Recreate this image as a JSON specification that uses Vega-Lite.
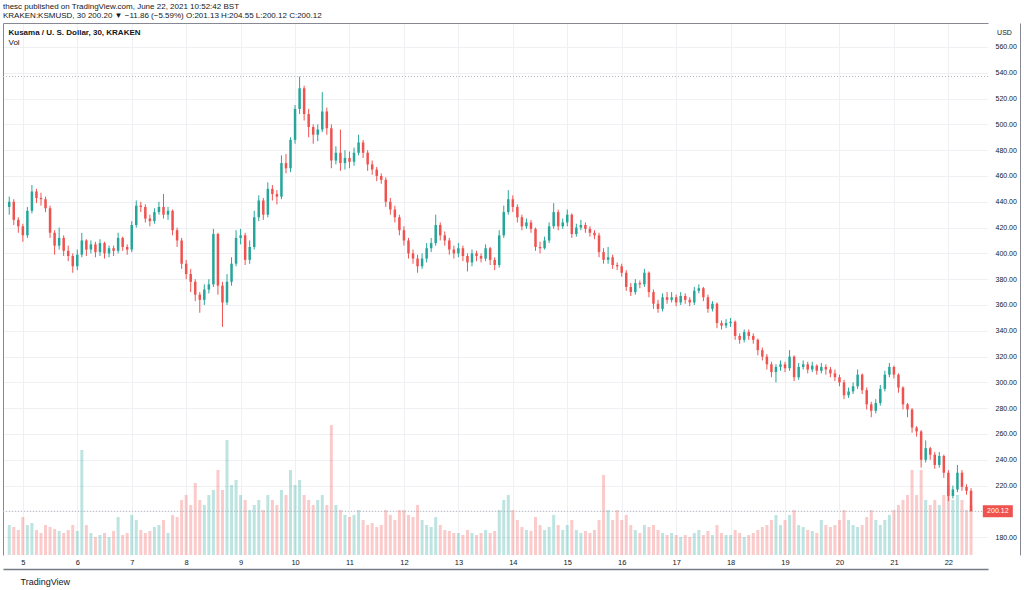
{
"$schema":"https://vega.github.io/schema/vega-lite/v6.json",
"width":985,"height":532,
"autosize":{"type":"none"},
"padding":{"left":3,"top":23,"right":36,"bottom":35},
"background":"#ffffff",
"config":{"view":{"stroke":null},"font":"Liberation Sans","axis":{"labelFont":"Liberation Sans","titleFont":"Liberation Sans"}},
"title":{"text":"thesc published on TradingView.com, June 22, 2021 10:52:42 BST","subtitle":"KRAKEN:KSMUSD, 30  200.20 ▼ −11.86 (−5.59%)  O:201.13  H:204.55  L:200.12  C:200.12","anchor":"start","frame":"group","fontSize":8,"fontWeight":"normal","color":"#131722","subtitleFontSize":8,"subtitleColor":"#131722","subtitlePadding":1,"offset":3},
"datasets":{"k":[
{"h":-6,"o":436,"hi":444,"l":430,"c":440,"v":30},
{"h":-4,"o":440,"hi":442,"l":422,"c":426,"v":28},
{"h":-2,"o":426,"hi":428,"l":416,"c":421,"v":25},
{"h":0,"o":421,"hi":423,"l":409,"c":414,"v":38},
{"h":2,"o":414,"hi":436,"l":412,"c":433,"v":30},
{"h":4,"o":433,"hi":453,"l":431,"c":448,"v":32},
{"h":6,"o":448,"hi":450,"l":439,"c":443,"v":25},
{"h":8,"o":443,"hi":447,"l":437,"c":442,"v":22},
{"h":10,"o":442,"hi":444,"l":432,"c":435,"v":30},
{"h":12,"o":435,"hi":437,"l":412,"c":416,"v":28},
{"h":14,"o":416,"hi":418,"l":399,"c":406,"v":26},
{"h":16,"o":406,"hi":420,"l":403,"c":412,"v":24},
{"h":18,"o":412,"hi":414,"l":398,"c":402,"v":22},
{"h":20,"o":402,"hi":406,"l":394,"c":398,"v":25},
{"h":22,"o":398,"hi":400,"l":385,"c":390,"v":30},
{"h":24,"o":390,"hi":403,"l":387,"c":399,"v":24},
{"h":26,"o":399,"hi":416,"l":397,"c":410,"v":105},
{"h":28,"o":410,"hi":411,"l":398,"c":403,"v":30},
{"h":30,"o":403,"hi":410,"l":400,"c":407,"v":22},
{"h":32,"o":407,"hi":409,"l":397,"c":401,"v":18},
{"h":34,"o":401,"hi":411,"l":398,"c":408,"v":20},
{"h":36,"o":408,"hi":409,"l":396,"c":400,"v":22},
{"h":38,"o":400,"hi":406,"l":397,"c":404,"v":18},
{"h":40,"o":404,"hi":406,"l":398,"c":402,"v":24},
{"h":42,"o":402,"hi":416,"l":400,"c":412,"v":38},
{"h":44,"o":412,"hi":413,"l":402,"c":405,"v":20},
{"h":46,"o":405,"hi":407,"l":399,"c":403,"v":22},
{"h":48,"o":403,"hi":425,"l":401,"c":422,"v":40},
{"h":50,"o":422,"hi":441,"l":420,"c":437,"v":35},
{"h":52,"o":437,"hi":440,"l":432,"c":436,"v":25},
{"h":54,"o":436,"hi":438,"l":424,"c":427,"v":22},
{"h":56,"o":427,"hi":430,"l":421,"c":425,"v":24},
{"h":58,"o":425,"hi":435,"l":423,"c":432,"v":28},
{"h":60,"o":432,"hi":440,"l":430,"c":436,"v":30},
{"h":62,"o":436,"hi":446,"l":427,"c":430,"v":35},
{"h":64,"o":430,"hi":436,"l":426,"c":433,"v":22},
{"h":66,"o":433,"hi":434,"l":414,"c":418,"v":40},
{"h":68,"o":418,"hi":420,"l":405,"c":410,"v":38},
{"h":70,"o":410,"hi":412,"l":388,"c":392,"v":55},
{"h":72,"o":392,"hi":395,"l":380,"c":384,"v":60},
{"h":74,"o":384,"hi":388,"l":370,"c":378,"v":50},
{"h":76,"o":378,"hi":380,"l":363,"c":368,"v":72},
{"h":78,"o":368,"hi":370,"l":354,"c":364,"v":55},
{"h":80,"o":364,"hi":376,"l":360,"c":372,"v":50},
{"h":82,"o":372,"hi":380,"l":369,"c":376,"v":60},
{"h":84,"o":376,"hi":419,"l":374,"c":415,"v":65},
{"h":86,"o":415,"hi":416,"l":368,"c":375,"v":85},
{"h":88,"o":375,"hi":378,"l":343,"c":362,"v":65},
{"h":90,"o":362,"hi":384,"l":360,"c":378,"v":115},
{"h":92,"o":378,"hi":397,"l":375,"c":392,"v":70},
{"h":94,"o":392,"hi":418,"l":390,"c":412,"v":75},
{"h":96,"o":412,"hi":419,"l":407,"c":414,"v":60},
{"h":98,"o":414,"hi":416,"l":391,"c":395,"v":55},
{"h":100,"o":395,"hi":410,"l":392,"c":405,"v":45},
{"h":102,"o":405,"hi":433,"l":403,"c":428,"v":50},
{"h":104,"o":428,"hi":445,"l":425,"c":441,"v":55},
{"h":106,"o":441,"hi":443,"l":426,"c":430,"v":45},
{"h":108,"o":430,"hi":455,"l":428,"c":450,"v":60},
{"h":110,"o":450,"hi":453,"l":441,"c":446,"v":55},
{"h":112,"o":446,"hi":449,"l":438,"c":444,"v":50},
{"h":114,"o":444,"hi":476,"l":442,"c":470,"v":65},
{"h":116,"o":470,"hi":477,"l":462,"c":466,"v":60},
{"h":118,"o":466,"hi":490,"l":463,"c":488,"v":85},
{"h":120,"o":488,"hi":515,"l":485,"c":512,"v":70},
{"h":122,"o":512,"hi":537,"l":508,"c":528,"v":75},
{"h":124,"o":528,"hi":530,"l":503,"c":508,"v":60},
{"h":126,"o":508,"hi":512,"l":490,"c":498,"v":55},
{"h":128,"o":498,"hi":500,"l":485,"c":492,"v":50},
{"h":130,"o":492,"hi":500,"l":487,"c":496,"v":55},
{"h":132,"o":496,"hi":525,"l":494,"c":510,"v":60},
{"h":134,"o":510,"hi":513,"l":492,"c":497,"v":50},
{"h":136,"o":497,"hi":500,"l":466,"c":472,"v":130},
{"h":138,"o":472,"hi":483,"l":469,"c":478,"v":50},
{"h":140,"o":478,"hi":496,"l":464,"c":470,"v":45},
{"h":142,"o":470,"hi":480,"l":465,"c":474,"v":40},
{"h":144,"o":474,"hi":479,"l":466,"c":471,"v":38},
{"h":146,"o":471,"hi":482,"l":468,"c":478,"v":40},
{"h":148,"o":478,"hi":492,"l":476,"c":486,"v":45},
{"h":150,"o":486,"hi":488,"l":474,"c":478,"v":35},
{"h":152,"o":478,"hi":480,"l":464,"c":469,"v":30},
{"h":154,"o":469,"hi":472,"l":461,"c":465,"v":32},
{"h":156,"o":465,"hi":467,"l":456,"c":460,"v":28},
{"h":158,"o":460,"hi":462,"l":454,"c":457,"v":30},
{"h":160,"o":457,"hi":459,"l":436,"c":440,"v":45},
{"h":162,"o":440,"hi":443,"l":430,"c":434,"v":40},
{"h":164,"o":434,"hi":437,"l":424,"c":428,"v":35},
{"h":166,"o":428,"hi":430,"l":414,"c":418,"v":45},
{"h":168,"o":418,"hi":421,"l":406,"c":410,"v":45},
{"h":170,"o":410,"hi":412,"l":396,"c":400,"v":40},
{"h":172,"o":400,"hi":403,"l":392,"c":396,"v":38},
{"h":174,"o":396,"hi":399,"l":385,"c":390,"v":50},
{"h":176,"o":390,"hi":400,"l":388,"c":396,"v":35},
{"h":178,"o":396,"hi":408,"l":393,"c":404,"v":30},
{"h":180,"o":404,"hi":412,"l":401,"c":408,"v":28},
{"h":182,"o":408,"hi":430,"l":406,"c":422,"v":38},
{"h":184,"o":422,"hi":424,"l":410,"c":414,"v":30},
{"h":186,"o":414,"hi":417,"l":406,"c":410,"v":25},
{"h":188,"o":410,"hi":412,"l":399,"c":403,"v":24},
{"h":190,"o":403,"hi":406,"l":396,"c":400,"v":22},
{"h":192,"o":400,"hi":408,"l":397,"c":404,"v":22},
{"h":194,"o":404,"hi":406,"l":394,"c":398,"v":20},
{"h":196,"o":398,"hi":400,"l":386,"c":393,"v":25},
{"h":198,"o":393,"hi":403,"l":390,"c":400,"v":22},
{"h":200,"o":400,"hi":402,"l":394,"c":398,"v":20},
{"h":202,"o":398,"hi":400,"l":393,"c":396,"v":22},
{"h":204,"o":396,"hi":407,"l":394,"c":404,"v":25},
{"h":206,"o":404,"hi":405,"l":391,"c":395,"v":22},
{"h":208,"o":395,"hi":397,"l":387,"c":391,"v":24},
{"h":210,"o":391,"hi":418,"l":389,"c":414,"v":45},
{"h":212,"o":414,"hi":437,"l":412,"c":432,"v":55},
{"h":214,"o":432,"hi":449,"l":430,"c":442,"v":60},
{"h":216,"o":442,"hi":445,"l":432,"c":436,"v":45},
{"h":218,"o":436,"hi":438,"l":424,"c":428,"v":35},
{"h":220,"o":428,"hi":430,"l":418,"c":421,"v":28},
{"h":222,"o":421,"hi":427,"l":419,"c":424,"v":25},
{"h":224,"o":424,"hi":426,"l":416,"c":419,"v":24},
{"h":226,"o":419,"hi":420,"l":402,"c":405,"v":38},
{"h":228,"o":405,"hi":409,"l":400,"c":404,"v":30},
{"h":230,"o":404,"hi":413,"l":403,"c":410,"v":25},
{"h":232,"o":410,"hi":424,"l":408,"c":421,"v":28},
{"h":234,"o":421,"hi":439,"l":419,"c":432,"v":40},
{"h":236,"o":432,"hi":434,"l":418,"c":421,"v":30},
{"h":238,"o":421,"hi":427,"l":419,"c":424,"v":25},
{"h":240,"o":424,"hi":434,"l":421,"c":430,"v":30},
{"h":242,"o":430,"hi":431,"l":412,"c":415,"v":35},
{"h":244,"o":415,"hi":423,"l":413,"c":420,"v":25},
{"h":246,"o":420,"hi":426,"l":418,"c":422,"v":22},
{"h":248,"o":422,"hi":424,"l":416,"c":419,"v":24},
{"h":250,"o":419,"hi":421,"l":413,"c":416,"v":22},
{"h":252,"o":416,"hi":418,"l":411,"c":414,"v":25},
{"h":254,"o":414,"hi":416,"l":397,"c":401,"v":35},
{"h":256,"o":401,"hi":404,"l":392,"c":395,"v":80},
{"h":258,"o":395,"hi":405,"l":392,"c":397,"v":45},
{"h":260,"o":397,"hi":399,"l":388,"c":391,"v":35},
{"h":262,"o":391,"hi":393,"l":387,"c":390,"v":45},
{"h":264,"o":390,"hi":392,"l":382,"c":385,"v":35},
{"h":266,"o":385,"hi":387,"l":371,"c":374,"v":40},
{"h":268,"o":374,"hi":377,"l":367,"c":370,"v":30},
{"h":270,"o":370,"hi":380,"l":368,"c":377,"v":25},
{"h":272,"o":377,"hi":379,"l":373,"c":376,"v":22},
{"h":274,"o":376,"hi":388,"l":374,"c":385,"v":30},
{"h":276,"o":385,"hi":386,"l":366,"c":370,"v":28},
{"h":278,"o":370,"hi":372,"l":357,"c":361,"v":30},
{"h":280,"o":361,"hi":364,"l":354,"c":357,"v":25},
{"h":282,"o":357,"hi":369,"l":355,"c":366,"v":22},
{"h":284,"o":366,"hi":370,"l":361,"c":364,"v":20},
{"h":286,"o":364,"hi":370,"l":362,"c":366,"v":22},
{"h":288,"o":366,"hi":368,"l":359,"c":362,"v":20},
{"h":290,"o":362,"hi":370,"l":360,"c":367,"v":18},
{"h":292,"o":367,"hi":369,"l":361,"c":364,"v":20},
{"h":294,"o":364,"hi":366,"l":359,"c":362,"v":18},
{"h":296,"o":362,"hi":374,"l":360,"c":371,"v":22},
{"h":298,"o":371,"hi":376,"l":369,"c":373,"v":25},
{"h":300,"o":373,"hi":374,"l":363,"c":366,"v":20},
{"h":302,"o":366,"hi":368,"l":354,"c":357,"v":24},
{"h":304,"o":357,"hi":363,"l":355,"c":361,"v":20},
{"h":306,"o":361,"hi":362,"l":342,"c":346,"v":30},
{"h":308,"o":346,"hi":348,"l":341,"c":344,"v":22},
{"h":310,"o":344,"hi":349,"l":342,"c":346,"v":20},
{"h":312,"o":346,"hi":350,"l":343,"c":347,"v":20},
{"h":314,"o":347,"hi":348,"l":333,"c":336,"v":25},
{"h":316,"o":336,"hi":338,"l":330,"c":333,"v":22},
{"h":318,"o":333,"hi":341,"l":331,"c":339,"v":18},
{"h":320,"o":339,"hi":341,"l":333,"c":336,"v":20},
{"h":322,"o":336,"hi":338,"l":330,"c":333,"v":22},
{"h":324,"o":333,"hi":334,"l":321,"c":325,"v":25},
{"h":326,"o":325,"hi":327,"l":317,"c":320,"v":28},
{"h":328,"o":320,"hi":322,"l":310,"c":314,"v":30},
{"h":330,"o":314,"hi":316,"l":304,"c":308,"v":35},
{"h":332,"o":308,"hi":314,"l":300,"c":312,"v":40},
{"h":334,"o":312,"hi":317,"l":309,"c":314,"v":30},
{"h":336,"o":314,"hi":316,"l":308,"c":311,"v":35},
{"h":338,"o":311,"hi":325,"l":309,"c":320,"v":40},
{"h":340,"o":320,"hi":321,"l":301,"c":304,"v":45},
{"h":342,"o":304,"hi":315,"l":302,"c":312,"v":30},
{"h":344,"o":312,"hi":317,"l":310,"c":314,"v":28},
{"h":346,"o":314,"hi":316,"l":307,"c":310,"v":25},
{"h":348,"o":310,"hi":316,"l":308,"c":313,"v":24},
{"h":350,"o":313,"hi":314,"l":306,"c":309,"v":22},
{"h":352,"o":309,"hi":315,"l":307,"c":312,"v":35},
{"h":354,"o":312,"hi":314,"l":306,"c":310,"v":30},
{"h":356,"o":310,"hi":312,"l":304,"c":307,"v":28},
{"h":358,"o":307,"hi":310,"l":301,"c":304,"v":30},
{"h":360,"o":304,"hi":306,"l":297,"c":300,"v":35},
{"h":362,"o":300,"hi":302,"l":287,"c":290,"v":45},
{"h":364,"o":290,"hi":296,"l":288,"c":293,"v":35},
{"h":366,"o":293,"hi":300,"l":291,"c":297,"v":30},
{"h":368,"o":297,"hi":310,"l":295,"c":306,"v":28},
{"h":370,"o":306,"hi":307,"l":291,"c":294,"v":30},
{"h":372,"o":294,"hi":296,"l":279,"c":283,"v":38},
{"h":374,"o":283,"hi":285,"l":273,"c":278,"v":45},
{"h":376,"o":278,"hi":287,"l":276,"c":284,"v":35},
{"h":378,"o":284,"hi":298,"l":282,"c":295,"v":30},
{"h":380,"o":295,"hi":309,"l":293,"c":306,"v":35},
{"h":382,"o":306,"hi":315,"l":304,"c":312,"v":40},
{"h":384,"o":312,"hi":313,"l":303,"c":306,"v":45},
{"h":386,"o":306,"hi":307,"l":292,"c":296,"v":50},
{"h":388,"o":296,"hi":297,"l":279,"c":283,"v":55},
{"h":390,"o":283,"hi":284,"l":273,"c":279,"v":60},
{"h":392,"o":279,"hi":280,"l":261,"c":265,"v":85},
{"h":394,"o":265,"hi":266,"l":258,"c":262,"v":60},
{"h":396,"o":262,"hi":263,"l":234,"c":240,"v":85},
{"h":398,"o":240,"hi":255,"l":238,"c":249,"v":55},
{"h":400,"o":249,"hi":250,"l":240,"c":244,"v":50},
{"h":402,"o":244,"hi":246,"l":233,"c":236,"v":55},
{"h":404,"o":236,"hi":246,"l":234,"c":243,"v":50},
{"h":406,"o":243,"hi":244,"l":226,"c":230,"v":60},
{"h":408,"o":230,"hi":232,"l":208,"c":212,"v":70},
{"h":410,"o":212,"hi":220,"l":210,"c":217,"v":55},
{"h":412,"o":217,"hi":236,"l":215,"c":230,"v":60},
{"h":414,"o":230,"hi":232,"l":216,"c":219,"v":55},
{"h":416,"o":219,"hi":221,"l":213,"c":216,"v":45},
{"h":418,"o":216,"hi":218,"l":200,"c":200.12,"v":50}
]},
"layer":[
{"data":{"name":"k"},"mark":{"type":"bar","size":3,"opacity":0.3},
 "encoding":{
  "x":{"field":"h","type":"quantitative","scale":{"domain":[-6.545,423.27],"nice":false,"zero":false},"axis":null},
  "y":{"field":"v","type":"quantitative","scale":{"domain":[0,532],"nice":false},"axis":null},
  "color":{"condition":{"test":"datum.c >= datum.o","value":"#26a69a"},"value":"#ef5350"}}},
{"data":{"name":"k"},"mark":{"type":"rule","strokeWidth":1},
 "encoding":{
  "x":{"field":"h","type":"quantitative","scale":{"domain":[-6.545,423.27],"nice":false,"zero":false},
   "axis":{"orient":"top","values":[0,24,48,72,96,120,144,168,192,216,240,264,288,312,336,360,384,408],"grid":true,"gridColor":"#eef0f4","labels":false,"ticks":false,"domain":true,"domainColor":"#868993","title":"Vol","titleX":5,"titleY":19,"titleAlign":"left","titleBaseline":"middle","titleFontSize":8,"titleFontWeight":"normal","titleColor":"#131722"}},
  "y":{"field":"l","type":"quantitative","scale":{"domain":[166.2,578.6],"nice":false,"zero":false},
   "axis":{"orient":"left","values":[180,200,220,240,260,280,300,320,340,360,380,400,420,440,460,480,500,520,540,560],"grid":true,"gridColor":"#eef0f4","labels":false,"ticks":false,"domain":true,"domainColor":"#868993","title":"Kusama / U. S. Dollar, 30, KRAKEN","titleAngle":0,"titleX":5,"titleY":9,"titleAlign":"left","titleBaseline":"middle","titleFontSize":8,"titleFontWeight":"bold","titleColor":"#131722"}},
  "y2":{"field":"hi"},
  "color":{"condition":{"test":"datum.c >= datum.o","value":"#26a69a"},"value":"#ef5350"}}},
{"data":{"name":"k"},"mark":{"type":"bar","size":2.5},
 "encoding":{
  "x":{"field":"h","type":"quantitative","scale":{"domain":[-6.545,423.27],"nice":false,"zero":false},
   "axis":{"orient":"bottom","offset":14,"values":[0,24,48,72,96,120,144,168,192,216,240,264,288,312,336,360,384,408],"labelExpr":"format(datum.value/24+5,'d')","grid":false,"ticks":false,"tickSize":0,"domain":true,"domainColor":"#787b86","domainWidth":1.5,"labelPadding":-7,"labelBaseline":"middle","labelFontSize":7.5,"labelColor":"#131722","labelFlush":false,"title":"TradingView","titleX":17,"titleY":12,"titleAlign":"left","titleBaseline":"middle","titleFontSize":9,"titleFontWeight":"normal","titleColor":"#131722"}},
  "y":{"field":"o","type":"quantitative","scale":{"domain":[166.2,578.6],"nice":false,"zero":false},
   "axis":{"orient":"right","offset":32,"values":[180,220,240,260,280,300,320,340,360,380,400,420,440,460,480,500,520,540,560],"format":".2f","grid":false,"ticks":false,"tickSize":0,"domain":true,"domainColor":"#868993","labelPadding":-25,"labelAlign":"left","labelFontSize":7,"labelColor":"#131722","title":"USD","titleAngle":0,"titleX":-16,"titleY":9,"titleAlign":"center","titleBaseline":"middle","titleFontSize":7,"titleFontWeight":"normal","titleColor":"#131722"}},
  "y2":{"field":"c"},
  "color":{"condition":{"test":"datum.c >= datum.o","value":"#26a69a"},"value":"#ef5350"}}},
{"data":{"values":[{"level":537.1},{"level":200.12}]},"mark":{"type":"rule","strokeDash":[1,2],"color":"#b2b5be","strokeWidth":1},
 "encoding":{"y":{"field":"level","type":"quantitative","scale":{"domain":[166.2,578.6],"nice":false,"zero":false},"axis":null}}},
{"data":{"values":[{"last":200.12,"label":"200.12"}]},"mark":{"type":"point","shape":"M-1,-0.4H1V0.4H-1Z","filled":true,"color":"#ef5350","size":900,"opacity":1},
 "encoding":{"x":{"datum":429.8,"type":"quantitative","scale":{"domain":[-6.545,423.27],"nice":false,"zero":false},"axis":null},
  "y":{"field":"last","type":"quantitative","scale":{"domain":[166.2,578.6],"nice":false,"zero":false},"axis":null}}},
{"data":{"values":[{"last":200.12,"label":"200.12"}]},"mark":{"type":"text","color":"#ffffff","fontSize":7,"align":"center","baseline":"middle"},
 "encoding":{"x":{"datum":429.8,"type":"quantitative","scale":{"domain":[-6.545,423.27],"nice":false,"zero":false},"axis":null},
  "y":{"field":"last","type":"quantitative","scale":{"domain":[166.2,578.6],"nice":false,"zero":false},"axis":null},
  "text":{"field":"label"}}}
],
"resolve":{"scale":{"y":"independent"},"axis":{"x":"independent","y":"independent"}}
}
